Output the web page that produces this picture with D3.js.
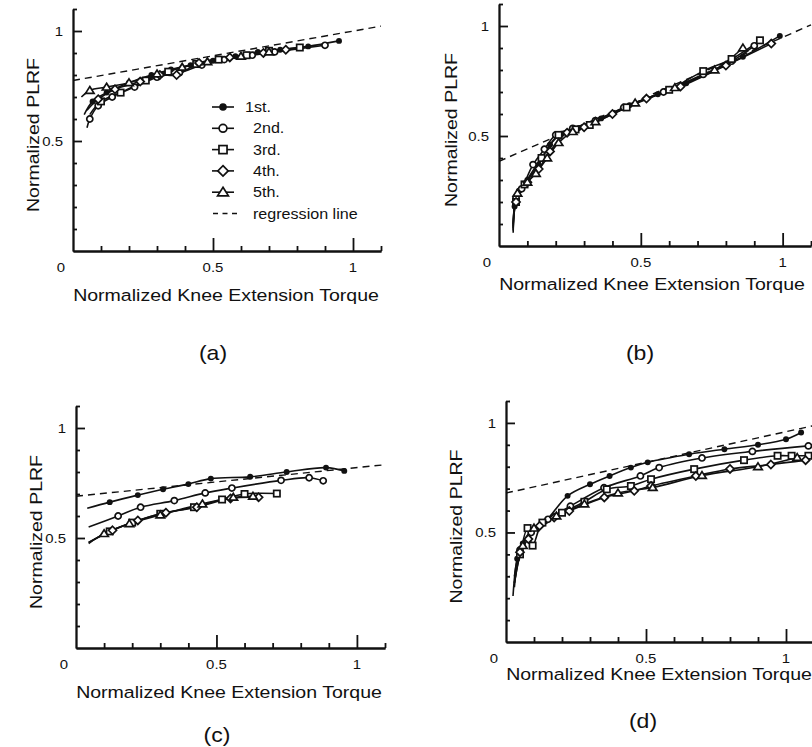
<!DOCTYPE html>
<html><head><meta charset="utf-8">
<script src="https://cdn.jsdelivr.net/npm/d3@7"></script>
<style>
body{margin:0;background:#fff}
svg{display:block}
text{font-family:"Liberation Sans",Arial,Helvetica,sans-serif;fill:#111}
</style>
</head><body>
<svg id="chart" width="812" height="747"></svg>
<script>
// ---------- DATA ----------
const trialNames = ["1st.", "2nd.", "3rd.", "4th.", "5th."];
const regressionName = "regression line";
const xTitle = "Normalized Knee Extension Torque";
const yTitle = "Normalized PLRF";
const panelLabels = ["(a)", "(b)", "(c)", "(d)"];
const xTickValues = [0, 0.5, 1];
const xTickLabels = ["0", "0.5", "1"];
const yTickValues = [0.5, 1];
const yTickLabels = ["0.5", "1"];

// panel (a)
const aTrial1 = [[0.04,0.62],[0.07,0.68],[0.12,0.72],[0.2,0.765],[0.28,0.8],[0.35,0.825],[0.42,0.845],[0.5,0.865],[0.58,0.885],[0.66,0.905],[0.74,0.915],[0.84,0.93],[0.95,0.955]];
const aTrial2 = [[0.05,0.56],[0.06,0.6],[0.09,0.66],[0.14,0.7],[0.22,0.745],[0.3,0.79],[0.38,0.81],[0.46,0.845],[0.54,0.87],[0.64,0.89],[0.72,0.905],[0.9,0.935]];
const aTrial3 = [[0.06,0.62],[0.1,0.68],[0.17,0.72],[0.26,0.775],[0.34,0.815],[0.44,0.85],[0.52,0.87],[0.62,0.89],[0.7,0.91],[0.81,0.925]];
const aTrial4 = [[0.05,0.64],[0.09,0.69],[0.15,0.735],[0.24,0.77],[0.31,0.8],[0.37,0.8],[0.45,0.855],[0.56,0.88],[0.68,0.9],[0.76,0.915]];
const aTrial5 = [[0.03,0.7],[0.06,0.73],[0.12,0.745],[0.2,0.765],[0.3,0.805],[0.39,0.835],[0.48,0.86],[0.6,0.885],[0.7,0.905]];
const aRegression = [[0,0.775],[1.1,1.022]];

// panel (b)
const bTrial1 = [[0.05,0.07],[0.055,0.18],[0.07,0.25],[0.1,0.3],[0.14,0.37],[0.18,0.46],[0.22,0.51],[0.28,0.535],[0.36,0.58],[0.46,0.64],[0.56,0.69],[0.66,0.74],[0.76,0.8],[0.86,0.86],[0.99,0.955]];
const bTrial2 = [[0.05,0.1],[0.06,0.22],[0.08,0.26],[0.12,0.37],[0.16,0.44],[0.2,0.505],[0.26,0.535],[0.34,0.57],[0.44,0.63],[0.58,0.7],[0.72,0.78],[0.82,0.84],[0.9,0.91]];
const bTrial3 = [[0.05,0.08],[0.06,0.2],[0.09,0.28],[0.15,0.4],[0.21,0.505],[0.27,0.53],[0.32,0.55],[0.45,0.63],[0.6,0.71],[0.72,0.795],[0.82,0.85],[0.92,0.935]];
const bTrial4 = [[0.05,0.06],[0.06,0.2],[0.1,0.29],[0.14,0.35],[0.18,0.43],[0.24,0.515],[0.3,0.54],[0.4,0.6],[0.52,0.67],[0.64,0.725],[0.8,0.82],[0.96,0.92]];
const bTrial5 = [[0.05,0.09],[0.065,0.24],[0.1,0.29],[0.13,0.33],[0.17,0.4],[0.21,0.47],[0.26,0.52],[0.34,0.565],[0.48,0.65],[0.62,0.72],[0.76,0.8],[0.86,0.9]];
const bRegression = [[0,0.385],[1.1,1.005]];

// panel (c)
const cTrial1 = [[0.04,0.635],[0.12,0.663],[0.22,0.695],[0.31,0.722],[0.4,0.745],[0.48,0.77],[0.62,0.778],[0.75,0.8],[0.89,0.82],[0.955,0.805]];
const cTrial2 = [[0.045,0.55],[0.15,0.6],[0.23,0.64],[0.35,0.67],[0.46,0.705],[0.555,0.727],[0.73,0.762],[0.83,0.774],[0.88,0.76]];
const cTrial3 = [[0.045,0.48],[0.12,0.53],[0.2,0.57],[0.3,0.61],[0.42,0.64],[0.52,0.675],[0.6,0.7],[0.715,0.702]];
const cTrial4 = [[0.045,0.48],[0.13,0.535],[0.22,0.58],[0.32,0.615],[0.43,0.64],[0.55,0.68],[0.65,0.685]];
const cTrial5 = [[0.045,0.475],[0.1,0.52],[0.19,0.565],[0.3,0.605],[0.45,0.655],[0.56,0.685],[0.63,0.69]];
const cRegression = [[0,0.69],[1.1,0.833]];

// panel (d)
const dTrial1 = [[0.025,0.21],[0.04,0.38],[0.06,0.45],[0.09,0.51],[0.14,0.55],[0.22,0.667],[0.3,0.72],[0.37,0.758],[0.446,0.796],[0.506,0.82],[0.654,0.857],[0.78,0.88],[0.9,0.9],[1.0,0.925],[1.054,0.956]];
const dTrial2 = [[0.03,0.3],[0.05,0.42],[0.09,0.5],[0.15,0.56],[0.23,0.62],[0.35,0.704],[0.48,0.758],[0.547,0.796],[0.7,0.84],[0.88,0.87],[1.08,0.895]];
const dTrial3 = [[0.03,0.27],[0.05,0.4],[0.077,0.52],[0.095,0.44],[0.13,0.545],[0.2,0.59],[0.28,0.64],[0.36,0.697],[0.446,0.712],[0.518,0.743],[0.672,0.789],[0.85,0.83],[0.97,0.85],[1.02,0.85],[1.08,0.85]];
const dTrial4 = [[0.03,0.25],[0.05,0.41],[0.08,0.47],[0.12,0.53],[0.172,0.568],[0.226,0.598],[0.351,0.66],[0.458,0.69],[0.518,0.712],[0.678,0.758],[0.8,0.79],[0.946,0.81],[1.07,0.83]];
const dTrial5 = [[0.03,0.27],[0.06,0.44],[0.1,0.52],[0.18,0.575],[0.28,0.63],[0.4,0.68],[0.524,0.705],[0.7,0.76],[0.9,0.8],[1.04,0.842]];
const dRegression = [[0,0.68],[1.1,0.988]];

// ---------- LAYOUT ----------
const markerTypes = ["fcircle", "circle", "square", "diamond", "triangle"];
const panels = [
  {series:[aTrial1,aTrial2,aTrial3,aTrial4,aTrial5], reg:aRegression, xr:[73,381], yr:[251,9],  yTitleX:33,  xTitleY:301, labelXY:[213,360], legend:true},
  {series:[bTrial1,bTrial2,bTrial3,bTrial4,bTrial5], reg:bRegression, xr:[499,811], yr:[246,4], yTitleX:451, xTitleY:290, labelXY:[640,360]},
  {series:[cTrial1,cTrial2,cTrial3,cTrial4,cTrial5], reg:cRegression, xr:[76,385], yr:[648,406], yTitleX:36,  xTitleY:698, labelXY:[217,742]},
  {series:[dTrial1,dTrial2,dTrial3,dTrial4,dTrial5], reg:dRegression, xr:[506,814], yr:[642,401], yTitleX:456, xTitleY:680, labelXY:[643,728]}
];

const svg = d3.select("#chart");
const INK = "#111";
const SX = 1.15; // horizontal stretch of the scanned lettering

function stretchedText(g, str, x, y, size, anchor, rotate) {
  return g.append("text")
    .attr("transform", `translate(${x},${y})` + (rotate ? " rotate(-90)" : "") + ` scale(${SX},1)`)
    .attr("text-anchor", anchor)
    .attr("font-size", size)
    .text(str);
}

function drawMarker(g, type, cx, cy, scale) {
  const s = scale || 1;
  const m = g.append("g").attr("transform", `translate(${cx},${cy})`);
  const sw = 1.7;
  if (type === "fcircle") {
    m.append("circle").attr("r", 3.3 * s).attr("fill", INK);
  } else if (type === "circle") {
    m.append("circle").attr("r", 3.4 * s).attr("fill", "#fff").attr("stroke", INK).attr("stroke-width", sw);
  } else if (type === "square") {
    const h = 3.5 * s;
    m.append("rect").attr("x", -h).attr("y", -h).attr("width", 2 * h).attr("height", 2 * h)
      .attr("fill", "#fff").attr("stroke", INK).attr("stroke-width", sw);
  } else if (type === "diamond") {
    const h = 4.5 * s;
    m.append("path").attr("d", `M0,${-h}L${h},0L0,${h}L${-h},0Z`)
      .attr("fill", "#fff").attr("stroke", INK).attr("stroke-width", sw);
  } else if (type === "triangle") {
    const h = 4.3 * s;
    m.append("path").attr("d", `M0,${-h}L${h * 1.1},${h * 0.75}L${-h * 1.1},${h * 0.75}Z`)
      .attr("fill", "#fff").attr("stroke", INK).attr("stroke-width", sw);
  }
}

const minorTicks = d3.range(1, 12).map(i => +(i / 10).toFixed(1));

panels.forEach((p, pi) => {
  const g = svg.append("g");
  const x = d3.scaleLinear().domain([0, 1.1]).range(p.xr);
  const y = d3.scaleLinear().domain([0, 1.1]).range(p.yr);

  const xMinor = d3.axisBottom(x).tickValues(minorTicks.filter(v => v !== 0.5 && v !== 1)).tickSize(-5).tickSizeOuter(0).tickFormat("");
  const xMajor = d3.axisBottom(x).tickValues([0.5, 1]).tickSize(-13).tickSizeOuter(0).tickFormat("");
  const yMinor = d3.axisLeft(y).tickValues(minorTicks.filter(v => v !== 0.5 && v !== 1)).tickSize(-4).tickSizeOuter(0).tickFormat("");
  const yMajor = d3.axisLeft(y).tickValues([0.5, 1]).tickSize(-9).tickSizeOuter(0).tickFormat("");
  [[xMinor, `translate(0,${p.yr[0]})`], [xMajor, `translate(0,${p.yr[0]})`],
   [yMinor, `translate(${p.xr[0]},0)`], [yMajor, `translate(${p.xr[0]},0)`]].forEach(([ax, tr]) => {
    const a = g.append("g").attr("transform", tr).call(ax);
    a.selectAll("path,line").attr("stroke", INK).attr("stroke-width", 1.8);
  });

  xTickValues.forEach((v, i) => {
    const px = v === 0 ? x(0) - 12 : x(v);
    stretchedText(g, xTickLabels[i], px, p.yr[0] + 21, 13, "middle");
  });
  yTickValues.forEach((v, i) => {
    stretchedText(g, yTickLabels[i], x(0) - 10, y(v) + 5, 13, "end");
  });

  stretchedText(g, xTitle, p.xr[0] - 2 + 155, p.xTitleY, 17, "middle");
  stretchedText(g, yTitle, p.yTitleX + 6, (p.yr[0] + p.yr[1]) / 2 + 5, 17, "middle", true);
  stretchedText(g, panelLabels[pi], p.labelXY[0], p.labelXY[1], 20, "middle");

  const line = d3.line().x(d => x(d[0])).y(d => y(d[1]));
  g.append("path").datum(p.reg).attr("d", line)
    .attr("fill", "none").attr("stroke", INK).attr("stroke-width", 1.4).attr("stroke-dasharray", "7,5");

  const curve = d3.line().x(d => x(d[0])).y(d => y(d[1])).curve(d3.curveCatmullRom.alpha(0.5));
  p.series.forEach((s) => {
    g.append("path").datum(s).attr("d", curve)
      .attr("fill", "none").attr("stroke", INK).attr("stroke-width", 1.6);
  });
  p.series.forEach((s, si) => {
    s.slice(1).forEach(d => drawMarker(g, markerTypes[si], x(d[0]), y(d[1]), 0.9));
  });

  if (p.legend) {
    const rows = trialNames.concat([regressionName]);
    rows.forEach((name, ri) => {
      const ry = 107 + ri * 21.3;
      if (ri < 5) {
        g.append("line").attr("x1", 212).attr("x2", 234).attr("y1", ry).attr("y2", ry)
          .attr("stroke", INK).attr("stroke-width", 1.6);
        drawMarker(g, markerTypes[ri], 223, ry, 1.15);
      } else {
        g.append("line").attr("x1", 213).attr("x2", 238).attr("y1", ry).attr("y2", ry)
          .attr("stroke", INK).attr("stroke-width", 1.4).attr("stroke-dasharray", "5,4.5");
      }
      stretchedText(g, name, ri === 0 ? 245 : 253, ry + 5, 14, "start");
    });
  }
});
</script>
</body></html>
